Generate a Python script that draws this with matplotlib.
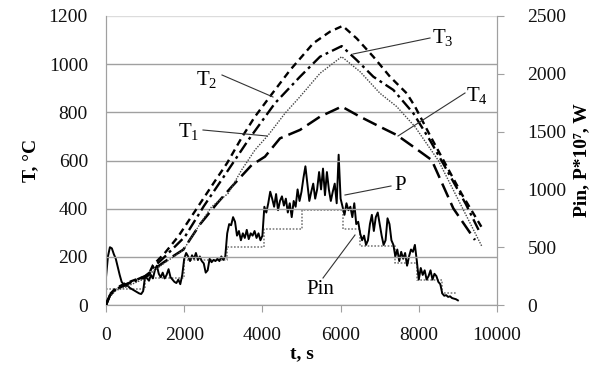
import matplotlib
matplotlib.use("Agg")
import matplotlib.pyplot as plt

plt.rcParams['font.family'] = ['Liberation Serif', 'DejaVu Serif']
plt.rcParams['mathtext.fontset'] = 'custom'
plt.rcParams['mathtext.rm'] = 'Liberation Serif'
plt.rcParams['mathtext.it'] = 'Liberation Serif:italic'
plt.rcParams['mathtext.bf'] = 'Liberation Serif:bold'

# ---- temperature series (left axis, deg C) ----
t_T1 = [0, 100, 250, 500, 1000, 1200, 1500, 1978, 2400, 2700, 3128, 3470, 3811, 4152,
        4578, 4962, 5473, 6028, 6496, 7008, 7434, 7903, 8500, 9000, 9608]
T1 = [0, 35, 60, 75, 110, 140, 175, 228, 335, 408, 464, 561, 644, 706,
      796, 865, 962, 1031, 969, 879, 824, 740, 600, 440, 245]

t_T2 = [0, 100, 250, 500, 750, 1000, 1100, 1200, 1500, 1850, 2400, 2788, 3100, 3470,
        3800, 4237, 4706, 5000, 5302, 5729, 6053, 6411, 6837, 7263, 7690, 7903, 8300,
        8700, 9100, 9600]
T2 = [0, 45, 70, 90, 105, 118, 130, 165, 215, 285, 420, 515, 590, 695,
      780, 875, 975, 1030, 1087, 1135, 1159, 1107, 1031, 948, 879, 824, 700,
      580, 460, 325]

t_T3 = [0, 100, 250, 500, 750, 1000, 1100, 1200, 1500, 2020, 2500, 3000, 3640, 4322,
        4962, 5473, 6028, 6411, 6837, 7349, 7861, 8300, 8700, 9200, 9565]
T3 = [0, 40, 65, 85, 100, 115, 125, 155, 200, 284, 410, 530, 685, 838,
      948, 1031, 1075, 1017, 948, 893, 796, 680, 565, 420, 300]

t_T4 = [0, 100, 250, 500, 1000, 1200, 1500, 1978, 2404, 2830, 3214, 3725, 4066, 4450,
        4962, 5473, 6028, 6496, 7008, 7434, 7861, 8329, 8883, 9437]
T4 = [0, 40, 65, 85, 120, 145, 180, 230, 335, 420, 491, 581, 616, 692,
      727, 782, 824, 782, 740, 706, 657, 602, 401, 270]

# ---- power series (right axis, W) ----
t_P = [0, 50, 100, 150, 200, 250, 300, 350, 400, 450, 500, 550, 600, 650, 700, 750, 800,
       850, 900, 950, 1000, 1050, 1100, 1150, 1200, 1250, 1300, 1350, 1400, 1450, 1500,
       1550, 1600, 1650, 1700, 1750, 1800, 1850, 1900, 1950, 2000, 2050, 2100, 2150, 2200,
       2250, 2300, 2350, 2400, 2450, 2500, 2550, 2600, 2650, 2700, 2750, 2800, 2850, 2900,
       2950, 3000, 3050, 3100, 3150, 3200, 3250, 3300, 3350, 3400, 3450, 3500, 3550, 3600,
       3650, 3700, 3750, 3800, 3850, 3900, 3950, 4000, 4050, 4100, 4150, 4200, 4250, 4300,
       4350, 4400, 4450, 4500, 4550, 4600, 4650, 4700, 4750, 4800, 4850, 4900, 4950, 5000,
       5050, 5100, 5150, 5200, 5250, 5300, 5350, 5400, 5450, 5500, 5550, 5600, 5650, 5700,
       5750, 5800, 5850, 5900, 5950, 6000, 6050, 6100, 6150, 6200, 6250, 6300, 6350, 6400,
       6450, 6500, 6550, 6600, 6650, 6700, 6750, 6800, 6850, 6900, 6950, 7000, 7050, 7100,
       7150, 7200, 7250, 7300, 7350, 7400, 7450, 7500, 7550, 7600, 7650, 7700, 7750, 7800,
       7850, 7900, 7950, 8000, 8050, 8100, 8150, 8200, 8250, 8300, 8350, 8400, 8450, 8500,
       8550, 8600, 8650, 8700, 8750, 8800, 8850, 8900, 8950, 9000]
P = [240, 420, 500, 490, 440, 400, 330, 260, 200, 180, 160, 170, 150, 140, 130, 120, 110,
     100, 95, 120, 250, 230, 210, 260, 230, 300, 340, 270, 240, 280, 230,
     260, 310, 240, 220, 200, 190, 220, 180, 260, 400, 450, 420, 380, 430,
     400, 450, 390, 420, 380, 360, 280, 300, 400, 370, 390, 380, 400, 380,
     420, 390, 420, 620, 700, 690, 760, 720, 600, 640, 560, 620, 580, 650,
     570, 620, 600, 640, 580, 620, 560, 600, 850, 800, 880, 980, 920, 850,
     960, 820, 900, 940, 860, 920, 800, 880, 760, 900, 850, 1000, 900, 980,
     1100, 1200, 1050, 900, 980, 1050, 920, 1000, 1150, 1000, 1180, 950, 1150, 1000,
     900, 980, 1050, 880, 1300, 920, 850, 780, 880, 820, 850, 760, 880, 700,
     720, 620, 560, 600, 520, 560, 700, 780, 640, 760, 800, 700, 600, 520,
     560, 750, 700, 560, 520, 420, 480, 380, 460, 400, 450, 340, 420, 480,
     460, 520, 380, 220, 320, 260, 300, 220, 250, 300, 220, 270, 250, 200,
     180, 100, 80, 85, 70, 75, 60, 55, 50, 40]

t_Pin = [0, 1000, 2000, 3100, 4050, 5000, 6050, 6500, 7400, 7950, 8600, 8950]
Pin = [135, 230, 390, 505, 660, 820, 660, 510, 360, 215, 105, 105]

fig = plt.figure(figsize=(5.93, 3.72), dpi=100)
ax = fig.add_axes([106/593, 1-305/372, (497-106)/593, (305-16)/372])
ax2 = ax.twinx()

gcol = '#a0a0a0'
ax.set_xlim(0, 10000)
ax.set_ylim(0, 1200)
ax.set_yticks(range(0, 1201, 200))
ax.set_xticks(range(0, 10001, 2000))
ax.grid(axis='y', color=gcol, lw=1.0)
ax.get_ygridlines()[-1].set_color('#dcdcdc')
ax.set_axisbelow(True)
ax2.set_ylim(0, 2500)
ax2.set_yticks(range(0, 2501, 500))

for a in (ax, ax2):
    for s in a.spines.values():
        s.set_color(gcol)
    a.spines['top'].set_visible(False)

ax.tick_params(axis='y', length=0, labelsize=14, pad=13, labelcolor='#111111')
ax.tick_params(axis='x', length=5, color=gcol, labelsize=14, pad=11, labelcolor='#111111')
ax2.tick_params(axis='y', length=5, color=gcol, labelsize=14, pad=17, labelcolor='#111111')

# power curves
ax2.plot(t_Pin, Pin, drawstyle='steps-post', color='#808080', lw=1.2, ls=(0, (1, 1)), zorder=2)
ax2.plot(t_P, P, color='black', lw=1.4, zorder=3)

# temperature curves
ax.plot(t_T4, T4, color='black', lw=1.8, ls=(0, (6, 2.5)), zorder=4)
ax.plot(t_T1, T1, color='#444444', lw=1.0, ls=(0, (1, 1)), zorder=4)
ax.plot(t_T3, T3, color='black', lw=1.7, ls=(0, (5, 1.8, 1.2, 1.8)), zorder=4)
ax.plot(t_T2, T2, color='black', lw=1.7, ls=(0, (3, 2)), zorder=4)
ax.set_zorder(ax2.get_zorder() + 1)
ax.patch.set_visible(False)

ax.set_xlabel('t, s', fontsize=14, fontweight='bold', labelpad=1)
ax.set_ylabel('T, °C', fontsize=14, fontweight='bold', labelpad=7)
ax2.set_ylabel('Pin, P*10⁷, W', fontsize=14, fontweight='bold', labelpad=5)


def label(text, tx, ty, x0, y0, x1, y1):
    fig.text(tx / 593, 1 - ty / 372, text, fontsize=15, ha='center', va='center')
    fig.add_artist(plt.Line2D([x0 / 593, x1 / 593], [1 - y0 / 372, 1 - y1 / 372],
                              color='#333333', lw=0.8))

label('T$_2$', 207, 80, 222, 75, 273, 97)
label('T$_1$', 189, 132, 203, 130, 267, 136)
label('T$_3$', 443, 38, 430, 38, 353, 54)
label('T$_4$', 477, 95, 465, 93, 398, 136)
label('P', 400, 185, 391, 186, 345, 195)
label('Pin', 320, 289, 323, 278, 355, 235)

fig.savefig('out.png', dpi=100)
